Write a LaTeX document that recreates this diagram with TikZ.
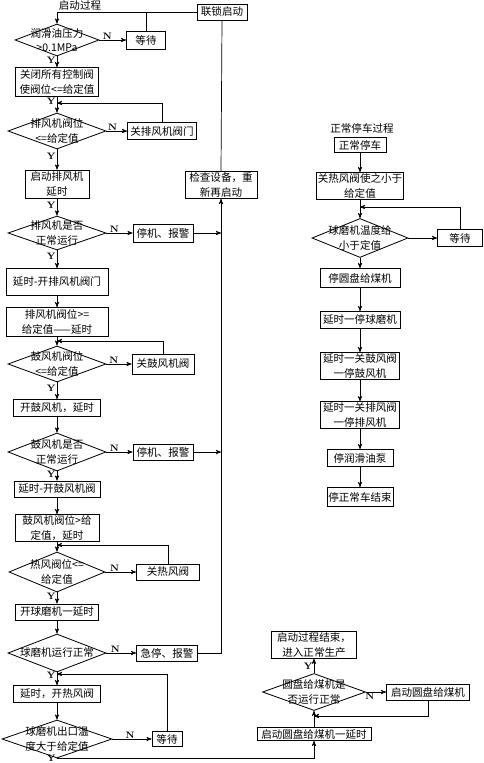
\documentclass[tikz,border=0pt]{standalone}
\usepackage{fontspec}
\newfontfamily\cjk{Noto Sans CJK SC}
\usetikzlibrary{arrows,shapes.geometric}
\tikzset{
>=stealth',
  box/.style 2 args={
    rectangle,
    draw=black, line width=0.7pt,
    minimum width=#1*0.03cm,
    minimum height=#2*0.03cm,
    inner sep=1pt,
    font=\cjk\fontsize{9}{12.5}\selectfont,
    align=center},
  dia/.style 2 args={
    diamond,
    draw=black, line width=0.7pt,
    minimum width=#1*0.03cm,
    minimum height=#2*0.03cm,
    inner sep=0pt},
  dtext/.style={font=\cjk\fontsize{9}{12.5}\selectfont, align=center, inner sep=0pt},
  title/.style={font=\cjk\fontsize{9}{11}\selectfont, inner sep=0pt},
  line/.style={draw, line width=0.6pt, ->},
  plain/.style={draw, line width=0.6pt},
  yn/.style={font=\bfseries\fontsize{8}{9}\selectfont, inner sep=1pt},
}
\begin{document}
\begin{tikzpicture}[x=0.03cm, y=-0.03cm]
      \useasboundingbox (0,0) rectangle (484,763);

      % start-up sequence
      \node (start) at (80,6) [title] {启动过程};
      \node (lock) at (222,12) [box={50}{16}] {联锁启动};
      \node (d1) at (57,40) [dia={84}{32}, label={[dtext]center:{润滑油压力\\>0.1MPa}}] {};
      \node (wait1) at (146,40) [box={39}{18}] {等待};
      \node (b1) at (57,82) [box={83}{29}] {关闭所有控制阀\\使阀位<=给定值};
      \node (d2) at (57,131) [dia={98}{36}, label={[dtext]center:{排风机阀位\\<=给定值}}] {};
      \node (b2) at (162,131) [box={69}{17}] {关排风机阀门};
      \node (b3) at (57,184) [box={64}{28}] {启动排风机\\延时};
      \node (check) at (221,185) [box={72}{27}] {检查设备，重\\新再启动};
      \node (d3) at (57,233) [dia={98}{34}, label={[dtext]center:{排风机是否\\正常运行}}] {};
      \node (b4) at (163,233) [box={60}{18}] {停机、报警};
      \node (b5) at (57,282) [box={102}{27}] {延时-开排风机阀门};
      \node (b6) at (57,322) [box={102}{29}] {排风机阀位>=\\给定值——延时};
      \node (d4) at (57,364) [dia={98}{36}, label={[dtext]center:{鼓风机阀位\\<=给定值}}] {};
      \node (b7) at (163,364) [box={62}{20}] {关鼓风机阀};
      \node (b8) at (57,408) [box={87}{17}] {开鼓风机，延时};
      \node (d5) at (57,452) [dia={98}{38}, label={[dtext]center:{鼓风机是否\\正常运行}}] {};
      \node (b9) at (163,452) [box={60}{16}] {停机、报警};
      \node (b10) at (57,489) [box={86}{16}] {延时-开鼓风机阀};
      \node (b11) at (57,528) [box={84}{25}] {鼓风机阀位>给\\定值，延时};
      \node (d6) at (57,572) [dia={96}{40}, label={[dtext]center:{热风阀位<=\\给定值}}] {};
      \node (b12) at (168,572) [box={63}{16}] {关热风阀};
      \node (b13) at (57,612) [box={83}{16}] {开球磨机一延时};
      \node (d7) at (57,653) [dia={98}{38}, label={[dtext]center:{球磨机运行正常}}] {};
      \node (b14) at (167,653) [box={61}{16}] {急停、报警};
      \node (b15) at (57,694) [box={87}{17}] {延时，开热风阀};
      \node (d8) at (57,739) [dia={110}{38}, label={[dtext]center:{球磨机出口温\\度大于给定值}}] {};
      \node (wait2) at (167,739) [box={30}{15}] {等待};
      \node (b16) at (314,734) [box={114}{13}] {启动圆盘给煤机一延时};
      \node (d9) at (314,692) [dia={103}{37}, label={[dtext]center:{圆盘给煤机是\\否运行正常}}] {};
      \node (b17) at (428,692) [box={83}{16}] {启动圆盘给煤机};
      \node (b18) at (314,645) [box={85}{26}] {启动过程结束，\\进入正常生产};

      \coordinate (j1) at (57,103);
      \coordinate (j2) at (57,341);
      \coordinate (j3) at (57,545);
      \coordinate (j4) at (57,674);
      \coordinate (j5) at (314,716);

      \draw[line] (lock.west) -| (d1.north);
      \draw[plain] (wait1.north) -- (wait1.north |- lock.west);
      \draw[line] (d1.east) -- node[yn, pos=0.3, above=-1pt] {N} (wait1.west);
      \draw[line] (d1.south) -- node[yn, pos=0.35, left] {Y} (b1.north);
      \draw[line] (b1.south) -- node[yn, pos=0.25, left] {Y} (d2.north);
      \draw[line] (b2.north) |- (j1);
      \draw[line] (d2.east) -- node[yn, pos=0.3, above=-1pt] {N} (b2.west);
      \draw[line] (d2.south) -- node[yn, pos=0.35, left] {Y} (b3.north);
      \draw[line] (b3.south) -- node[yn, pos=0.4, left] {Y} (d3.north);
      \draw[line] (d3.east) -- node[yn, pos=0.3, above=-1pt] {N} (b4.west);
      \draw[line] (b4.east) -- (b4.east -| check.south);
      \draw[line] (d3.south) -- node[yn, pos=0.35, left] {Y} (b5.north);
      \draw[line] (b5.south) -- (b6.north);
      \draw[line] (b6.south) -- (d4.north);
      \draw[line] (b7.north) |- (j2);
      \draw[line] (d4.east) -- node[yn, pos=0.3, above=-1pt] {N} (b7.west);
      \draw[line] (d4.south) -- node[yn, pos=0.35, left] {Y} (b8.north);
      \draw[line] (b8.south) -- (d5.north);
      \draw[line] (d5.east) -- node[yn, pos=0.3, above=-1pt] {N} (b9.west);
      \draw[line] (b9.east) -- (b9.east -| check.south);
      \draw[line] (d5.south) -- node[yn, pos=0.35, left] {Y} (b10.north);
      \draw[line] (b10.south) -- (b11.north);
      \draw[line] (b11.south) -- (d6.north);
      \draw[line] (b12.north) |- (j3);
      \draw[line] (d6.east) -- node[yn, pos=0.3, above=-1pt] {N} (b12.west);
      \draw[line] (d6.south) -- node[yn, pos=0.35, left] {Y} (b13.north);
      \draw[line] (b13.south) -- (d7.north);
      \draw[line] (d7.east) -- node[yn, pos=0.3, above=-1pt] {N} (b14.west);
      \draw[line] (b14.east) -| (check.south);
      \draw[plain] (check.north) -- (lock.south);
      \draw[line] (d7.south) -- node[yn, pos=0.2, left] {Y} (b15.north);
      \draw[line] (wait2.north) |- (j4);
      \draw[line] (b15.south) -- (d8.north);
      \draw[line] (d8.east) -- node[yn, pos=0.45, above=-1pt] {N} (wait2.west);
      \draw[line] (d8.south) -| node[yn, pos=0, left] {Y} (b16.south);
      \draw[line] (b16.north) -- (d9.south);
      \draw[line] (d9.east) -- node[yn, pos=0.2, below=0pt] {N} (b17.west);
      \draw[line] (b17.south) |- (j5);
      \draw[line] (d9.north) -- node[yn, pos=0.5, left] {Y} (b18.south);

      % normal shutdown
      \node (stop) at (362,128) [title] {正常停车过程};
      \node (s1) at (360,145) [box={52}{15}] {正常停车};
      \node (s2) at (360,186) [box={87}{27}] {关热风阀使之小于\\给定值};
      \node (d10) at (360,238) [dia={96}{39}, label={[dtext]center:{球磨机温度给\\小于定值}}] {};
      \node (wait3) at (460,238) [box={45}{17}] {等待};
      \node (s3) at (360,278) [box={80}{19}] {停圆盘给煤机};
      \node (s4) at (360,320) [box={80}{17}] {延时一停球磨机};
      \node (s5) at (360,366) [box={79}{27}] {延时一关鼓风阀\\一停鼓风机};
      \node (s6) at (360,415) [box={79}{26}] {延时一关排风阀\\一停排风机};
      \node (s7) at (360,458) [box={66}{17}] {停润滑油泵};
      \node (s8) at (360,497) [box={66}{19}] {停正常车结束};
      \coordinate (j6) at (360,207);

      \draw[line] (s1.south) -- (s2.north);
      \draw[line] (s2.south) -- (d10.north);
      \draw[line] (d10.east) -- (wait3.west);
      \draw[line] (wait3.north) |- (j6);
      \draw[line] (d10.south) -- (s3.north);
      \draw[line] (s3.south) -- (s4.north);
      \draw[line] (s4.south) -- (s5.north);
      \draw[line] (s5.south) -- (s6.north);
      \draw[line] (s6.south) -- (s7.north);
      \draw[line] (s7.south) -- (s8.north);
    \end{tikzpicture}
\end{document}
